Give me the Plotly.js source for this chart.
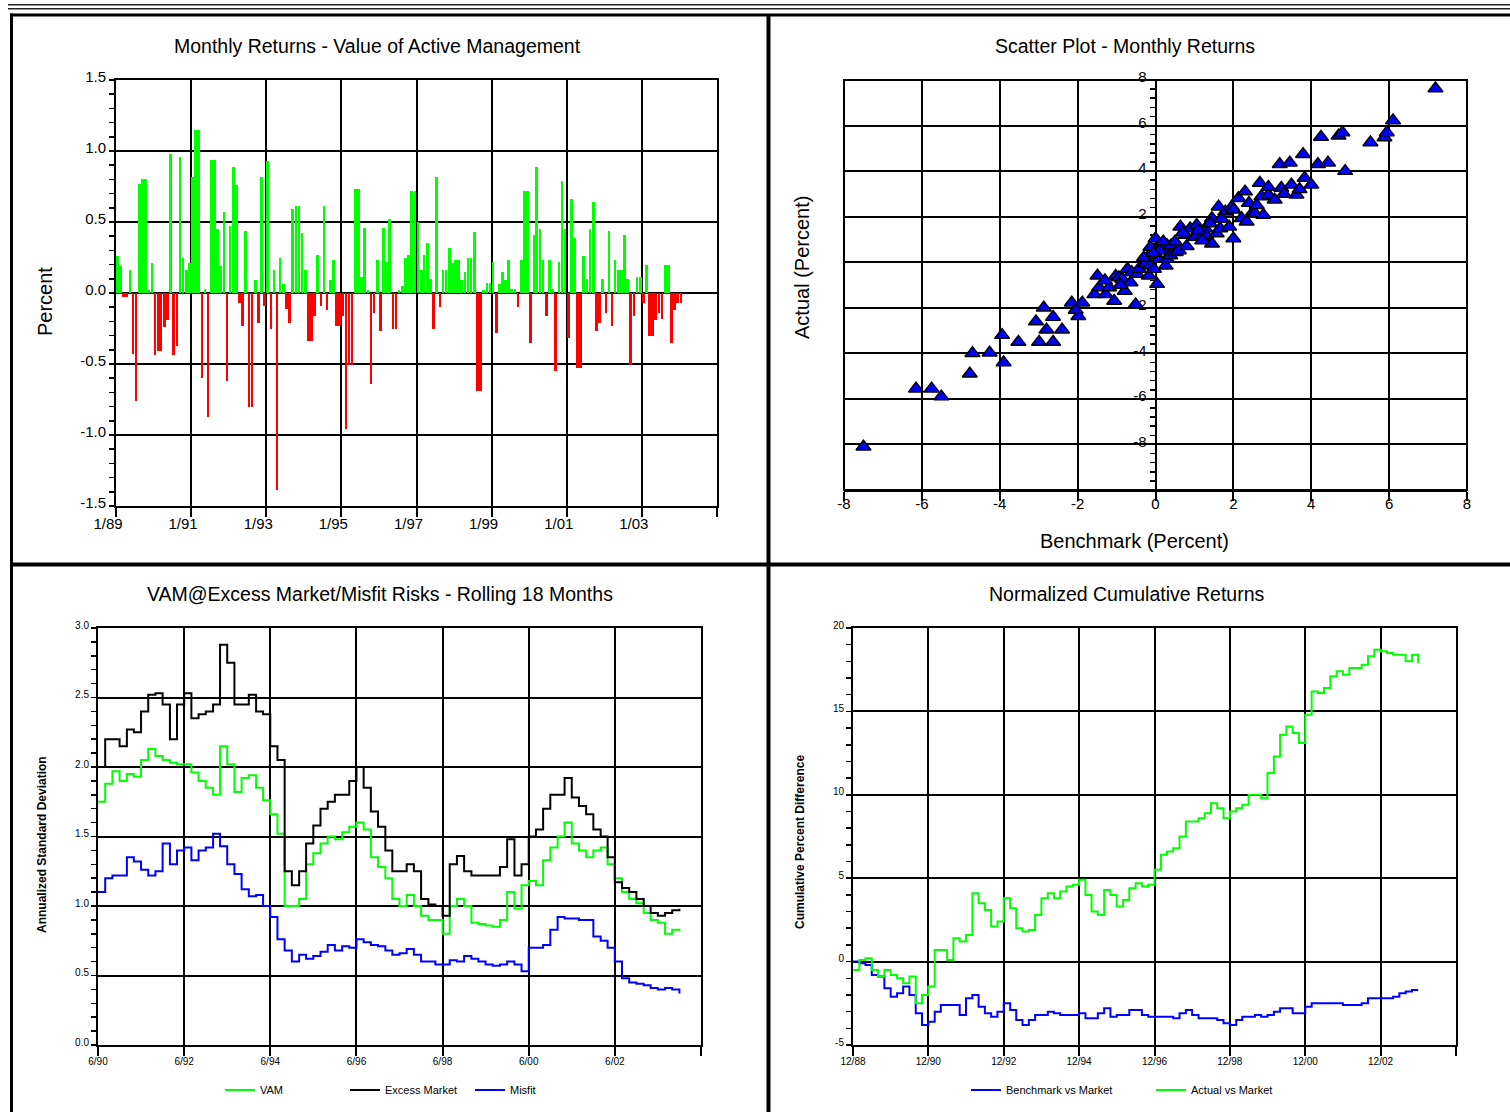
<!DOCTYPE html>
<html><head><meta charset="utf-8">
<script src="https://cdn.plot.ly/plotly-3.0.1.min.js"></script>
<style>html,body{margin:0;padding:0;background:#fff;}#chart{width:1510px;height:1112px;}</style>
</head><body><div id="chart"></div>
<script>
// ================= DATA =================
// Panel 1: monthly value of active management (percent), Jan 1989 onward
const activeReturns = [
 0.26, 0.19,-0.03,-0.03, 0.16,-0.43,-0.76, 0.77, 0.80, 0.80, 0.02, 0.21,-0.44,-0.41,-0.41,-0.24,-0.19, 0.98,-0.44,-0.37, 0.96, 0.25, 0.16, 0.21,
 0.82, 1.15, 1.15,-0.60, 0.03,-0.87, 0.94, 0.94, 0.45, 0.19, 0.57,-0.62, 0.47, 0.89, 0.76,-0.07,-0.23, 0.44,-0.80,-0.80, 0.09,-0.21, 0.82,-0.09,
 0.93,-0.25, 0.16,-1.39, 0.25, 0.06,-0.11,-0.21, 0.59, 0.61, 0.61, 0.42, 0.16,-0.34,-0.34,-0.16, 0.27,-0.09, 0.61,-0.12, 0.09, 0.23,-0.23,-0.23,
-0.16,-0.96,-0.51,-0.51, 0.73, 0.73, 0.11, 0.46, 0.02,-0.64,-0.14, 0.23,-0.27, 0.46, 0.22, 0.52,-0.25,-0.25, 0.02, 0.05, 0.25, 0.27, 0.72, 0.72,
 0.50, 0.16, 0.27, 0.35, 0.10,-0.25, 0.82,-0.10, 0.16, 0.16, 0.32, 0.21, 0.23, 0.23, 0.09, 0.15, 0.25, 0.25, 0.43,-0.69,-0.69, 0.02, 0.07, 0.07,
 0.22,-0.28, 0.06, 0.15, 0.09, 0.23, 0.03, 0.03,-0.10, 0.23, 0.72, 0.72,-0.35, 0.41, 0.89, 0.45, 0.23,-0.16, 0.23, 0.03,-0.55, 0.22, 0.79, 0.45,
-0.32, 0.66, 0.39,-0.53,-0.53, 0.26, 0.10, 0.45, 0.64,-0.27,-0.21, 0.10,-0.14, 0.44,-0.23, 0.23, 0.16, 0.16, 0.41, 0.10,-0.51,-0.16, 0.11, 0.11,
-0.07, 0.20,-0.30,-0.30,-0.19,-0.14,-0.18, 0.20, 0.20,-0.35,-0.12,-0.07,-0.07
];
const p1TickLabels = ["1/89","1/91","1/93","1/95","1/97","1/99","1/01","1/03",""];
const p1YTicks = [-1.5,-1.0,-0.5,0.0,0.5,1.0,1.5];

// Panel 2: scatter of monthly returns (benchmark vs actual, percent)
const scatterBenchmark = [
-7.50,-6.15,-5.75,-5.50,-4.77,-4.70,-4.26,-3.94,-3.90,-3.52,-3.07,-2.87,-2.99,-2.80,-2.63,-2.63,-2.40,-2.15,-1.98,-1.88,
-2.05,-1.57,-1.49,-1.45,-1.28,-1.19,-1.06,-1.02,-0.94,-0.85,-0.79,-0.72,-0.64,-0.61,-0.51,-0.47,-0.43,-0.26,-0.17,-0.17,
-0.13,-0.13,-0.04, 0.00, 0.04, 0.09, 0.17, 0.26, 0.29, 0.30, 0.38, 0.40, 0.52, 0.60, 0.64, 0.77, 0.89, 1.02, 1.06, 1.19,
 1.28, 1.30, 1.45, 1.45, 1.57, 1.62, 1.66, 1.79, 1.89, 1.96, 2.00, 2.13, 2.21, 2.30, 2.34, 2.51, 2.55, 2.68, 2.72, 2.77,
 2.90, 3.06, 3.19, 3.23, 3.45, 3.49, 3.62, 3.79, 3.83, 4.00, 4.17, 4.43, 4.25, 4.70, 4.80, 4.87, 5.52, 5.88, 5.94, 6.10,
 7.19,-0.30, 0.10, 0.50, 0.80, 1.10, 1.40, 1.70, 2.00, 2.40, 3.30,-1.30,-0.90, 0.70, 3.70, 2.90,-0.05, 0.20, 1.20, 2.60
];
const scatterActual = [
-8.10,-5.55,-5.55,-5.90,-4.90,-4.00,-3.97,-3.20,-4.40,-3.50,-2.60,-2.00,-3.50,-2.96,-2.40,-3.50,-2.96,-1.78,-2.37,-1.78,
-2.10,-1.41,-0.59,-1.11,-1.41,-1.11,-1.70,-0.60,-0.67,-0.74,-1.26,-0.30,-0.89,-0.44,-1.85,-0.52,-0.30,-0.07,-0.59, 0.30,
 0.67,-0.15,-0.30, 1.04,-0.96, 0.15, 0.60,-0.15, 0.15, 0.74, 0.30, 0.74, 0.44, 0.52, 1.56, 1.19, 1.48, 1.11, 1.63, 1.11,
 1.48, 1.19, 1.93, 0.81, 1.26, 2.44, 1.48, 2.22, 1.56, 2.44, 1.04, 2.81, 1.93, 3.10, 1.78, 2.22, 2.15, 3.48, 2.89, 2.07,
 2.96, 2.74, 4.30, 3.26, 4.37, 3.40, 2.96, 4.74, 3.70, 3.40, 4.30, 4.37, 5.50, 5.55, 5.70, 4.00, 5.26, 5.48, 5.70, 6.22,
 7.63, 0.20, 0.50, 0.90, 0.70, 1.40, 1.70, 1.90, 2.30, 2.60, 3.00,-0.80,-1.00, 1.30, 3.20, 3.30, 0.40, 0.90, 0.95, 2.50
];
const scatterTicks = [-8,-6,-4,-2,0,2,4,6,8];
const scatterYTicks = [-10,-8,-6,-4,-2,0,2,4,6,8];
const scatterYLabels = ["","-8","-6","-4","-2","0","2","4","6","8"];

// Panel 3: rolling 18-month risks, every 2 months from 6/90
const vamRisk = [
1.75,1.88,1.97,1.90,1.95,1.93,2.05,2.13,2.08,2.05,2.03,2.02,2.02,1.96,1.90,1.85,1.80,2.15,2.02,1.82,
1.92,1.94,1.85,1.76,1.66,1.52,1.00,1.00,1.05,1.30,1.38,1.45,1.50,1.48,1.53,1.57,1.60,1.55,1.35,1.28,
1.20,1.05,1.00,1.08,1.00,0.93,0.90,0.90,0.80,1.00,1.05,1.00,0.88,0.87,0.86,0.85,0.90,1.10,0.98,1.15,
1.18,1.15,1.33,1.42,1.50,1.60,1.45,1.40,1.35,1.40,1.42,1.30,1.20,1.10,1.05,1.02,0.95,0.90,0.88,0.80,
0.83,0.82
];
const excessMarketRisk = [
2.00,2.20,2.20,2.15,2.27,2.25,2.40,2.52,2.53,2.45,2.20,2.45,2.53,2.35,2.38,2.40,2.45,2.88,2.75,2.45,
2.45,2.52,2.40,2.38,2.15,2.05,1.25,1.15,1.25,1.45,1.58,1.70,1.75,1.80,1.80,1.90,2.00,1.85,1.68,1.57,
1.40,1.25,1.25,1.30,1.25,1.05,1.01,1.00,0.93,1.30,1.36,1.25,1.22,1.22,1.22,1.22,1.28,1.48,1.22,1.30,
1.50,1.55,1.70,1.80,1.80,1.92,1.78,1.72,1.66,1.55,1.50,1.35,1.17,1.13,1.10,1.05,1.00,0.95,0.93,0.95,
0.97,0.98
];
const misfitRisk = [
1.10,1.20,1.22,1.22,1.35,1.32,1.26,1.22,1.25,1.45,1.30,1.40,1.42,1.33,1.40,1.42,1.52,1.43,1.30,1.23,
1.12,1.07,1.08,1.00,0.92,0.76,0.68,0.60,0.65,0.62,0.64,0.67,0.72,0.68,0.71,0.70,0.76,0.74,0.72,0.71,
0.68,0.65,0.66,0.69,0.65,0.60,0.60,0.58,0.58,0.61,0.60,0.64,0.62,0.60,0.58,0.57,0.58,0.60,0.58,0.53,
0.70,0.70,0.72,0.83,0.92,0.91,0.91,0.90,0.90,0.78,0.75,0.70,0.60,0.48,0.45,0.44,0.43,0.41,0.40,0.41,
0.40,0.37
];
const p3TickLabels = ["6/90","6/92","6/94","6/96","6/98","6/00","6/02",""];
const p3YTicks = [0,0.5,1.0,1.5,2.0,2.5,3.0];

// Panel 4: normalized cumulative returns, every 2 months from 12/88
const benchVsMarket = [
 0.0,-0.1,-0.2,-0.8,-0.9,-1.6,-2.1,-1.9,-1.5,-2.0,-3.1,-3.8,-3.6,-3.0,-2.6,-2.6,-2.6,-3.2,-2.2,-2.0,
-2.7,-3.1,-3.3,-3.0,-2.5,-2.9,-3.5,-3.8,-3.5,-3.2,-3.2,-3.0,-3.1,-3.2,-3.2,-3.2,-3.1,-3.4,-3.4,-3.1,
-2.8,-3.3,-3.2,-3.2,-2.9,-2.9,-3.2,-3.3,-3.3,-3.3,-3.3,-3.4,-3.1,-2.9,-3.2,-3.4,-3.4,-3.4,-3.5,-3.7,
-3.8,-3.5,-3.3,-3.3,-3.2,-3.3,-3.2,-3.0,-2.8,-2.8,-3.1,-3.1,-2.7,-2.5,-2.5,-2.5,-2.5,-2.5,-2.6,-2.6,
-2.6,-2.5,-2.2,-2.2,-2.2,-2.2,-2.1,-1.9,-1.8,-1.7,-1.7
];
const actualVsMarket = [
-0.5, 0.1, 0.2,-0.5,-0.9,-0.5,-0.8,-1.0,-1.3,-0.9,-2.5,-2.0,-1.5, 0.7, 0.7, 0.1, 1.4, 1.2, 1.6, 4.1,
 3.5, 3.1, 2.1, 2.4, 3.8, 3.2, 2.0, 1.8, 1.9, 2.8, 3.8, 4.1, 3.8, 4.2, 4.5, 4.6, 4.9, 4.0, 3.0, 2.8,
 4.3, 4.0, 3.3, 3.7, 4.4, 4.7, 4.5, 4.6, 5.5, 6.4, 6.6, 6.8, 7.5, 8.4, 8.4, 8.6, 8.9, 9.5, 9.2, 8.6,
 9.0, 9.2, 9.4,10.0,10.0, 9.8,11.3,12.3,13.6,14.1,13.7,13.1,14.8,16.2,16.1,16.4,17.1,17.4,17.2,17.6,
17.6,17.8,18.3,18.7,18.6,18.5,18.4,18.4,18.0,18.4,17.9
];
const p4TickLabels = ["12/88","12/90","12/92","12/94","12/96","12/98","12/00","12/02",""];
const p4YTicks = [-5,0,5,10,15,20];

// ================= HELPERS =================
const W = 1510, H = 1112;
const px = v => v / W;
const py = v => 1 - v / H;
const FONT = 'Liberation Sans, Arial, Helvetica, sans-serif';
const BLACK = '#000000', GREEN = '#00ff00', RED = '#ff0000', BLUE = '#0000ff';

function pad(n){ return (n < 10 ? '0' : '') + n; }
function monthSeq(year, month, count, step, day){
  const out = [];
  for (let i = 0; i < count; i++){
    const t = (month - 1) + i * step;
    const y = year + Math.floor(t / 12), m = (t % 12) + 1;
    out.push(y + '-' + pad(m) + '-' + pad(day));
  }
  return out;
}
function yearTicks(y0, y1, month){
  const out = [];
  for (let y = y0; y <= y1; y += 2) out.push(y + '-' + pad(month) + '-01');
  return out;
}

const gridBase = {
  showgrid: true, gridcolor: BLACK, gridwidth: 2,
  showline: true, linecolor: BLACK, linewidth: 2, mirror: true,
  zeroline: false, tickcolor: BLACK, fixedrange: true
};
function xDateAxis(l, r, range, tickvals, ticktext, fs, shift, standoff, anchor){
  return Object.assign({}, gridBase, {
    domain: [px(l), px(r)], anchor: anchor, type: 'date', range: range,
    tickmode: 'array', tickvals: tickvals, ticktext: ticktext,
    ticks: 'outside', ticklen: 9, tickwidth: 2,
    tickfont: {family: FONT, size: fs, color: BLACK}, ticklabelshift: shift, ticklabelstandoff: standoff
  });
}
function yNumAxis(t, b, range, tickvals, ticktext, minorStep, fs, anchor){
  return Object.assign({}, gridBase, {
    domain: [py(b), py(t)], anchor: anchor, range: range,
    tickmode: 'array', tickvals: tickvals, ticktext: ticktext,
    ticks: 'outside', ticklen: 5, tickwidth: 1.5,
    minor: {dtick: minorStep, tick0: 0, ticks: 'outside', ticklen: 5, tickwidth: 1.5, tickcolor: BLACK, showgrid: false},
    tickfont: {family: FONT, size: fs, color: BLACK}, ticklabelshift: -3
  });
}
function yOverlay(over, anchor, range, tickvals, minorStep, extra){
  return Object.assign({
    overlaying: over, anchor: anchor, side: 'left', range: range,
    showgrid: false, zeroline: false, showline: false, showticklabels: false,
    tickmode: 'array', tickvals: tickvals,
    ticks: 'inside', ticklen: 5, tickwidth: 1.5, tickcolor: BLACK,
    minor: {dtick: minorStep, tick0: 0, ticks: 'inside', ticklen: 5, tickwidth: 1.5, tickcolor: BLACK, showgrid: false},
    fixedrange: true
  }, extra || {});
}

// ================= TRACES =================
const barDates = monthSeq(1989, 1, activeReturns.length, 1, 16);
const rollDates = monthSeq(1990, 6, vamRisk.length, 2, 1);
const cumDates = monthSeq(1988, 12, actualVsMarket.length, 2, 1);

const traces = [
  {type: 'bar', x: barDates, y: activeReturns, xaxis: 'x', yaxis: 'y',
   marker: {color: activeReturns.map(v => v >= 0 ? GREEN : RED), line: {width: 0}},
   width: 0.85 * 30.44 * 86400000, showlegend: false, hoverinfo: 'skip'},
  {type: 'scatter', mode: 'markers', x: scatterBenchmark, y: scatterActual, xaxis: 'x2', yaxis: 'y2',
   marker: {symbol: 'triangle-up', size: 13, color: BLUE, line: {color: BLACK, width: 1.5}},
   showlegend: false, hoverinfo: 'skip'},
  {type: 'scatter', mode: 'lines', name: 'Misfit', x: rollDates, y: misfitRisk, xaxis: 'x3', yaxis: 'y3',
   line: {color: BLUE, width: 2, shape: 'hv'}, legend: 'legend', legendrank: 3},
  {type: 'scatter', mode: 'lines', name: 'VAM', x: rollDates, y: vamRisk, xaxis: 'x3', yaxis: 'y3',
   line: {color: GREEN, width: 2, shape: 'hv'}, legend: 'legend', legendrank: 1},
  {type: 'scatter', mode: 'lines', name: 'Excess Market', x: rollDates, y: excessMarketRisk, xaxis: 'x3', yaxis: 'y3',
   line: {color: BLACK, width: 2, shape: 'hv'}, legend: 'legend', legendrank: 2},
  {type: 'scatter', mode: 'lines', name: 'Benchmark vs Market', x: cumDates, y: benchVsMarket, xaxis: 'x4', yaxis: 'y4',
   line: {color: BLUE, width: 2, shape: 'hv'}, legend: 'legend2', legendrank: 1},
  {type: 'scatter', mode: 'lines', name: 'Actual vs Market', x: cumDates, y: actualVsMarket, xaxis: 'x4', yaxis: 'y4',
   line: {color: GREEN, width: 2, shape: 'hv'}, legend: 'legend2', legendrank: 2}
];

// ================= LAYOUT =================
const P1 = {l: 116, r: 717, t: 80, b: 506};
const P2 = {l: 844, r: 1467, t: 80, b: 490};
const P3 = {l: 98, r: 701, t: 628, b: 1045};
const P4 = {l: 853, r: 1456, t: 628, b: 1045};
const scatterYPos = px(P2.l + (P2.r - P2.l) / 2);

const p1YText = p1YTicks.map(v => v.toFixed(1));
const p3YText = p3YTicks.map(v => v.toFixed(1));
const p4YText = p4YTicks.map(v => String(v));

const TITLE_SIZE = 19.5, AXTITLE_SIZE = 20;

const layout = {
  width: W, height: H, margin: {l: 0, r: 0, t: 0, b: 0},
  paper_bgcolor: '#ffffff', plot_bgcolor: '#ffffff',
  font: {family: FONT, color: BLACK},
  bargap: 0,
  // Panel 1
  xaxis: xDateAxis(P1.l, P1.r, ['1989-01-01', '2005-01-01'], yearTicks(1989, 2005, 1), p1TickLabels, 15, -8, -6, 'y'),
  yaxis: yNumAxis(P1.t, P1.b, [-1.5, 1.5], p1YTicks, p1YText, 0.1, 15, 'x'),
  yaxis5: yOverlay('y', 'x', [-1.5, 1.5], p1YTicks, 0.1),
  // Panel 2
  xaxis2: Object.assign({}, gridBase, {
    domain: [px(P2.l), px(P2.r)], anchor: 'y2', range: [-8, 8],
    tickmode: 'array', tickvals: scatterTicks, ticktext: scatterTicks.map(String),
    ticks: 'outside', ticklen: 9, tickwidth: 2, mirror: false,
    tickfont: {family: FONT, size: 15, color: BLACK}, ticklabelstandoff: -10, layer: 'below traces'
  }),
  yaxis2: Object.assign({}, gridBase, {
    domain: [py(P2.b), py(P2.t)], anchor: 'free', position: scatterYPos, range: [-10, 8],
    tickmode: 'array', tickvals: scatterYTicks, ticktext: scatterYLabels, mirror: false,
    ticks: 'outside', ticklen: 5, tickwidth: 1.5,
    minor: {dtick: 0.4, tick0: 0, ticks: 'outside', ticklen: 5, tickwidth: 1.5, tickcolor: BLACK, showgrid: false},
    tickfont: {family: FONT, size: 15, color: BLACK}, ticklabelshift: -3, layer: 'below traces'
  }),
  yaxis6: yOverlay('y2', 'free', [-10, 8], scatterYTicks, 0.4, {position: scatterYPos, layer: 'below traces'}),
  // Panel 3
  xaxis3: xDateAxis(P3.l, P3.r, ['1990-06-01', '2004-06-01'], yearTicks(1990, 2004, 6), p3TickLabels, 10, 0, -3, 'y3'),
  yaxis3: yNumAxis(P3.t, P3.b, [0, 3], p3YTicks, p3YText, 0.1, 10, 'x3'),
  yaxis7: yOverlay('y3', 'x3', [0, 3], p3YTicks, 0.1),
  // Panel 4
  xaxis4: xDateAxis(P4.l, P4.r, ['1988-12-01', '2004-12-01'], yearTicks(1988, 2004, 12), p4TickLabels, 10, 0, -3, 'y4'),
  yaxis4: yNumAxis(P4.t, P4.b, [-5, 20], p4YTicks, p4YText, 1, 10, 'x4'),
  yaxis8: yOverlay('y4', 'x4', [-5, 20], p4YTicks, 1),
  legend: {orientation: 'h', x: px(220), xanchor: 'left', y: py(1090), yanchor: 'middle',
           font: {family: FONT, size: 11, color: BLACK}, bgcolor: 'rgba(0,0,0,0)',
           itemwidth: 30, entrywidth: 80, entrywidthmode: 'pixels', traceorder: 'normal'},
  legend2: {orientation: 'h', x: px(966), xanchor: 'left', y: py(1090), yanchor: 'middle',
           font: {family: FONT, size: 11, color: BLACK}, bgcolor: 'rgba(0,0,0,0)',
           itemwidth: 30, entrywidth: 140, entrywidthmode: 'pixels', traceorder: 'normal'},
  annotations: [
    {text: 'Monthly Returns - Value of Active Management', x: px(377), y: py(46)},
    {text: 'Scatter Plot - Monthly Returns', x: px(1125), y: py(46)},
    {text: 'VAM@Excess Market/Misfit Risks - Rolling 18 Months', x: px(380), y: py(594)},
    {text: 'Normalized Cumulative Returns', x: px(1127), y: py(594)},
    {text: 'Percent', x: px(45), y: py(302), textangle: -90, font: {family: FONT, size: AXTITLE_SIZE, color: BLACK}},
    {text: 'Benchmark (Percent)', x: px(1134), y: py(541), font: {family: FONT, size: AXTITLE_SIZE, color: BLACK}},
    {text: 'Actual (Percent)', x: px(802), y: py(268), textangle: -90, font: {family: FONT, size: AXTITLE_SIZE, color: BLACK}},
    {text: '<b>Annualized Standard Deviation</b>', x: px(42), y: py(845), textangle: -90, font: {family: FONT, size: 12, color: BLACK}},
    {text: '<b>Cumulative Percent Difference</b>', x: px(800), y: py(842), textangle: -90, font: {family: FONT, size: 12, color: BLACK}}
  ].map(a => Object.assign({xref: 'paper', yref: 'paper', xanchor: 'center', yanchor: 'middle',
                            showarrow: false, font: {family: FONT, size: TITLE_SIZE, color: BLACK}}, a)),
  shapes: [
    {type: 'line', xref: 'paper', yref: 'paper', x0: px(8), x1: 1, y0: py(4.8), y1: py(4.8), line: {color: '#222', width: 1.6}},
    {type: 'line', xref: 'paper', yref: 'paper', x0: px(8), x1: 1, y0: py(8.8), y1: py(8.8), line: {color: '#222', width: 1.6}},
    {type: 'line', xref: 'paper', yref: 'paper', x0: px(10), x1: 1, y0: py(15), y1: py(15), line: {color: BLACK, width: 3}},
    {type: 'line', xref: 'paper', yref: 'paper', x0: px(11.5), x1: px(11.5), y0: py(13.5), y1: 0, line: {color: BLACK, width: 3}},
    {type: 'line', xref: 'paper', yref: 'paper', x0: px(768.5), x1: px(768.5), y0: py(15), y1: 0, line: {color: BLACK, width: 4}},
    {type: 'line', xref: 'paper', yref: 'paper', x0: px(10), x1: 1, y0: py(564.5), y1: py(564.5), line: {color: BLACK, width: 4}},
    {type: 'rect', xref: 'x2 domain', yref: 'y2 domain', x0: 0, x1: 1, y0: 0, y1: 1, line: {color: BLACK, width: 2}, layer: 'below'}
  ]
};

Plotly.newPlot('chart', traces, layout, {staticPlot: true, displayModeBar: false});
</script>
</body></html>
